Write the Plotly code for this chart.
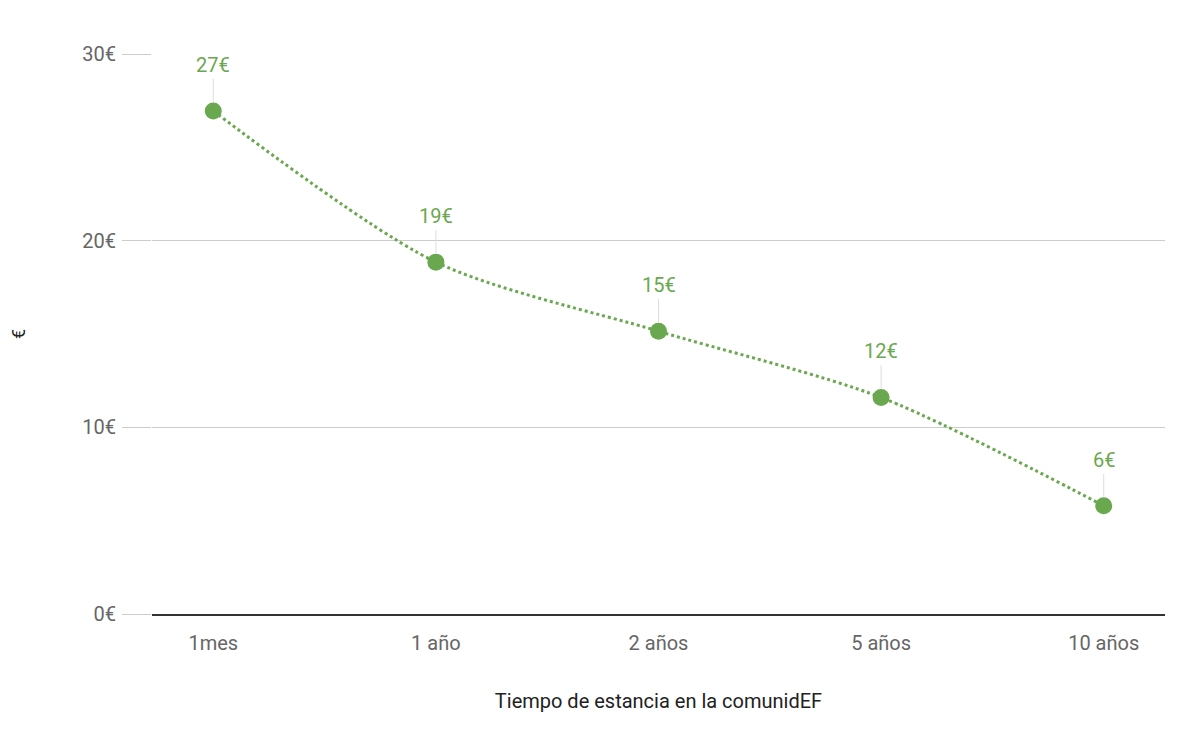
import plotly.graph_objects as go

categories = ["1mes", "1 año", "2 años", "5 años", "10 años"]
values = [26.95, 18.85, 15.15, 11.6, 5.8]
labels = ["27€", "19€", "15€", "12€", "6€"]
green = "#6aa84f"

fig = go.Figure()
fig.add_trace(go.Scatter(
    x=categories, y=values, mode="lines+markers",
    line=dict(color=green, width=3, dash="dot", shape="spline", smoothing=0.8),
    marker=dict(size=17, color=green),
))
for c, v, t in zip(categories, values, labels):
    fig.add_annotation(x=c, y=v, text=t, showarrow=True, arrowhead=0, arrowwidth=1,
                       arrowcolor="#dddddd", ax=0, ay=-32, standoff=9,
                       font=dict(color=green, size=20, family="Roboto"), yanchor="bottom")

fig.update_layout(
    width=1188, height=734, plot_bgcolor="white", paper_bgcolor="white",
    margin=dict(l=144, r=31, t=46, b=128), showlegend=False,
    font=dict(family="Roboto", color="#666666", size=20),
    xaxis=dict(title=dict(text="Tiempo de estancia en la comunidEF", font=dict(size=20, color="#222222"), standoff=40),
               showgrid=False, showline=True, linecolor="#333333", linewidth=1.5, ticks="",
               ticklabelstandoff=10, automargin=False),
    yaxis=dict(title=dict(text="€", font=dict(size=18, color="#222222"), standoff=70),
               range=[0, 30], tickvals=[0, 10, 20, 30], ticktext=["0€", "10€", "20€", "30€"],
               showgrid=True, gridcolor="#cccccc", gridwidth=1, zeroline=False,
               ticks="outside", ticklen=29, tickcolor="#cccccc", ticklabelstandoff=2,
               automargin=False),
)
fig.write_html("out.html")
